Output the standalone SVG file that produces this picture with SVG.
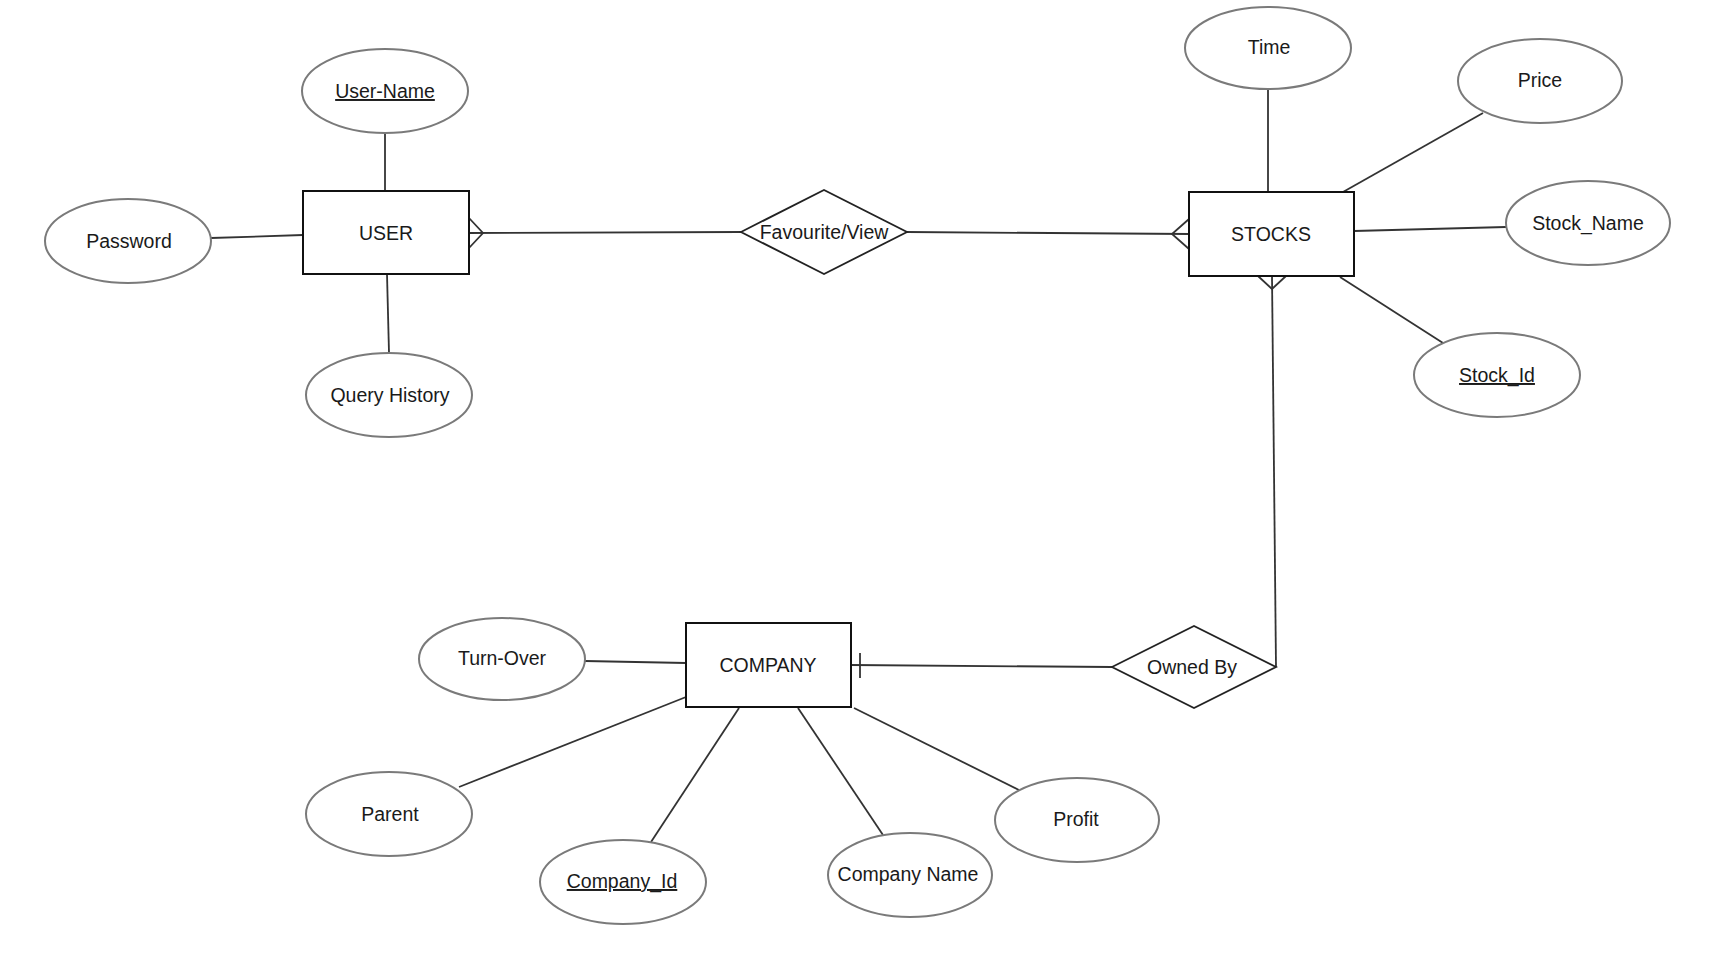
<svg xmlns="http://www.w3.org/2000/svg" width="1732" height="953" viewBox="0 0 1732 953">
<style>
.attr{fill:#fff;stroke:#7a7a7a;stroke-width:2}
.ent{fill:#fff;stroke:#111;stroke-width:2}
.rel{fill:#fff;stroke:#222;stroke-width:1.8}
.lbl{font-family:"Liberation Sans",Arial,sans-serif;font-size:19.5px;fill:#1a1a1a;text-anchor:middle}
.u{text-decoration:underline}
.conn line,.conn polyline{stroke:#333;stroke-width:1.8;fill:none}
</style>
<rect width="1732" height="953" fill="#fff"/>
<g class="conn" id="connectors">
<line x1="211" y1="238" x2="303" y2="235"/>
<line x1="385" y1="133" x2="385" y2="191"/>
<line x1="387" y1="274" x2="389" y2="353"/>
<line x1="469" y1="233" x2="741" y2="232"/>
<polyline points="469,218 483,233 469,248"/>
<line x1="907" y1="232" x2="1189" y2="234"/>
<polyline points="1189,219 1172,234 1189,249"/>
<line x1="1268" y1="89" x2="1268" y2="192"/>
<line x1="1343" y1="192" x2="1483" y2="113"/>
<line x1="1354" y1="231" x2="1506" y2="227"/>
<line x1="1340" y1="277" x2="1443" y2="343"/>
<line x1="1272" y1="276" x2="1276" y2="667"/>
<polyline points="1258,276 1272,289 1286,276"/>
<line x1="1112" y1="667" x2="851" y2="665"/>
<line x1="860" y1="653" x2="860" y2="678"/>
<line x1="585" y1="661" x2="686" y2="663"/>
<line x1="459" y1="787" x2="686" y2="697"/>
<line x1="651" y1="842" x2="739" y2="708"/>
<line x1="798" y1="708" x2="883" y2="835"/>
<line x1="854" y1="708" x2="1019" y2="790"/>
</g>
<g id="user"><rect class="ent" x="303" y="191" width="166" height="83"/><text class="lbl" x="386" y="240">USER</text></g>
<g id="stocks"><rect class="ent" x="1189" y="192" width="165" height="84"/><text class="lbl" x="1271" y="241">STOCKS</text></g>
<g id="company"><rect class="ent" x="686" y="623" width="165" height="84"/><text class="lbl" x="768" y="672">COMPANY</text></g>
<g id="favourite"><polygon class="rel" points="741,232 824,190 907,232 824,274"/><text class="lbl" x="824" y="239">Favourite/View</text></g>
<g id="ownedby"><polygon class="rel" points="1112,667 1194,626 1276,667 1194,708"/><text class="lbl" x="1192" y="674">Owned By</text></g>
<g id="username"><ellipse class="attr" cx="385" cy="91" rx="83" ry="42"/><text class="lbl u" x="385" y="98">User-Name</text></g>
<g id="password"><ellipse class="attr" cx="128" cy="241" rx="83" ry="42"/><text class="lbl" x="129" y="248">Password</text></g>
<g id="queryhistory"><ellipse class="attr" cx="389" cy="395" rx="83" ry="42"/><text class="lbl" x="390" y="402">Query History</text></g>
<g id="time"><ellipse class="attr" cx="1268" cy="48" rx="83" ry="41"/><text class="lbl" x="1269" y="54">Time</text></g>
<g id="price"><ellipse class="attr" cx="1540" cy="81" rx="82" ry="42"/><text class="lbl" x="1540" y="87">Price</text></g>
<g id="stockname"><ellipse class="attr" cx="1588" cy="223" rx="82" ry="42"/><text class="lbl" x="1588" y="230">Stock_Name</text></g>
<g id="stockid"><ellipse class="attr" cx="1497" cy="375" rx="83" ry="42"/><text class="lbl u" x="1497" y="382">Stock_Id</text></g>
<g id="turnover"><ellipse class="attr" cx="502" cy="659" rx="83" ry="41"/><text class="lbl" x="502" y="665">Turn-Over</text></g>
<g id="parent"><ellipse class="attr" cx="389" cy="814" rx="83" ry="42"/><text class="lbl" x="390" y="821">Parent</text></g>
<g id="companyid"><ellipse class="attr" cx="623" cy="882" rx="83" ry="42"/><text class="lbl u" x="622" y="888">Company_Id</text></g>
<g id="companyname"><ellipse class="attr" cx="910" cy="875" rx="82" ry="42"/><text class="lbl" x="908" y="881">Company Name</text></g>
<g id="profit"><ellipse class="attr" cx="1077" cy="820" rx="82" ry="42"/><text class="lbl" x="1076" y="826">Profit</text></g>
</svg>
